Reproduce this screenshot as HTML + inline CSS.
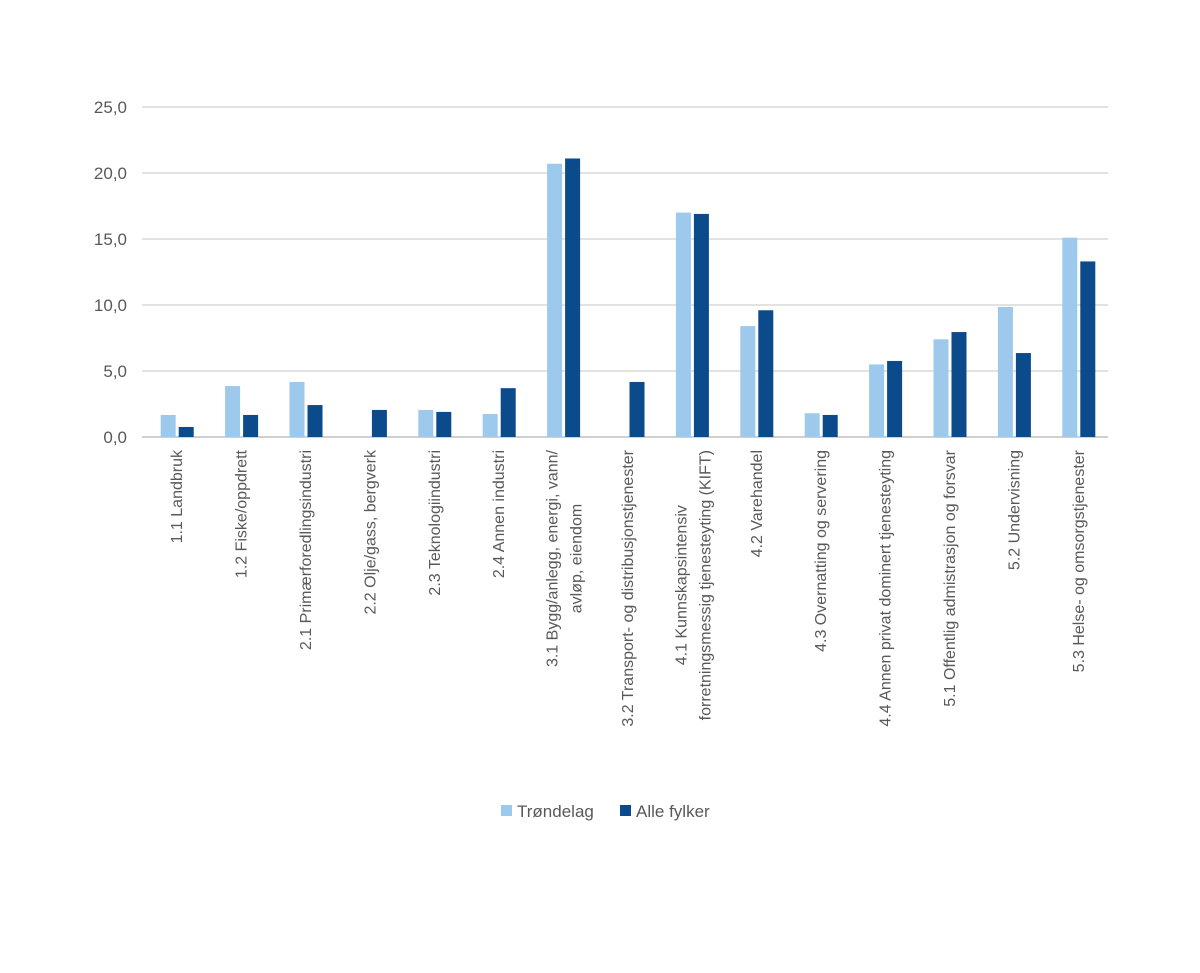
<!DOCTYPE html>
<html><head><meta charset="utf-8"><style>
html,body{margin:0;padding:0;background:#fff;}
svg{display:block;font-family:"Liberation Sans",sans-serif;}
</style></head><body>
<svg id="chart" width="1200" height="973"></svg>
<script>
const categories = [
 ["1.1 Landbruk"],["1.2 Fiske/oppdrett"],["2.1 Primærforedlingsindustri"],["2.2 Olje/gass, bergverk"],
 ["2.3 Teknologiindustri"],["2.4 Annen industri"],["3.1 Bygg/anlegg, energi, vann/","avløp, eiendom"],
 ["3.2 Transport- og distribusjonstjenester"],["4.1 Kunnskapsintensiv","forretningsmessig tjenesteyting (KIFT)"],
 ["4.2 Varehandel"],["4.3 Overnatting og servering"],["4.4 Annen privat dominert tjenesteyting"],
 ["5.1 Offentlig admistrasjon og forsvar"],["5.2 Undervisning"],["5.3 Helse- og omsorgstjenester"]];
const trondelag = [1.67,3.86,4.17,0,2.05,1.74,20.7,0,17.0,8.4,1.8,5.5,7.4,9.85,15.1];
const alleFylker = [0.76,1.67,2.42,2.05,1.9,3.7,21.1,4.17,16.9,9.6,1.67,5.76,7.95,6.36,13.3];
const yTicks = [0,5,10,15,20,25];
const tickLabels = ["0,0","5,0","10,0","15,0","20,0","25,0"];

const svg = document.getElementById('chart');
const NS = "http://www.w3.org/2000/svg";
const L=142, R=1108, Y0=437, Y25=107;
const y = v => Y0 - (v/25)*(Y0-Y25);
const band = (R-L)/categories.length;
const cx = i => L + band*(i+0.5);
function mk(t,a){const e=document.createElementNS(NS,t);for(const k in a)e.setAttribute(k,a[k]);svg.appendChild(e);return e;}

yTicks.forEach((t,i)=>{
  const g=mk('line',{x1:L,x2:R,y1:y(t),y2:y(t),stroke:i==0?'#d0d0d0':'#d9d9d9','stroke-width':i==0?2:1.5});
  
  
  const tx=mk('text',{x:127,y:y(t)+6,'text-anchor':'end','font-size':17,fill:'#595959'});
  tx.textContent=tickLabels[i];
  
  
});
categories.forEach((c,i)=>{
  const bw=15;
  const b1=mk('rect',{x:cx(i)-bw+1.5,y:y(trondelag[i]),width:bw,height:Y0-y(trondelag[i]),fill:'#9dc9ec'});
  
  
  const b2=mk('rect',{x:cx(i)+4.5,y:y(alleFylker[i]),width:bw,height:Y0-y(alleFylker[i]),fill:'#0b4a8b'});
  
  
  if(c.length===1){
    const t=mk('text',{transform:`translate(${cx(i)+8},450) rotate(-90)`,'text-anchor':'end','font-size':16,fill:'#595959'});
    t.textContent=c[0];
    
    
  } else {
    const els=c.map((s,k)=>{const t=mk('text',{'text-anchor':'middle','font-size':16,fill:'#595959'});t.textContent=s;
      
      
      return t;});
    const maxLen=Math.max(...els.map(e=>e.getComputedTextLength()));
    els.forEach((e,k)=>e.setAttribute('transform',`translate(${cx(i)-3+k*24},${450+maxLen/2}) rotate(-90)`));
  }
});
const lg=[["#9dc9ec","Trøndelag",501],["#0b4a8b","Alle fylker",620]];
lg.forEach(([col,txt,x])=>{
  const r=mk('rect',{x:x,y:805,width:11,height:11,fill:col});
  
  
  const t=mk('text',{x:x+16,y:817,'font-size':17,fill:'#595959'});
  t.textContent=txt;
  
  
});
</script>
</body></html>
